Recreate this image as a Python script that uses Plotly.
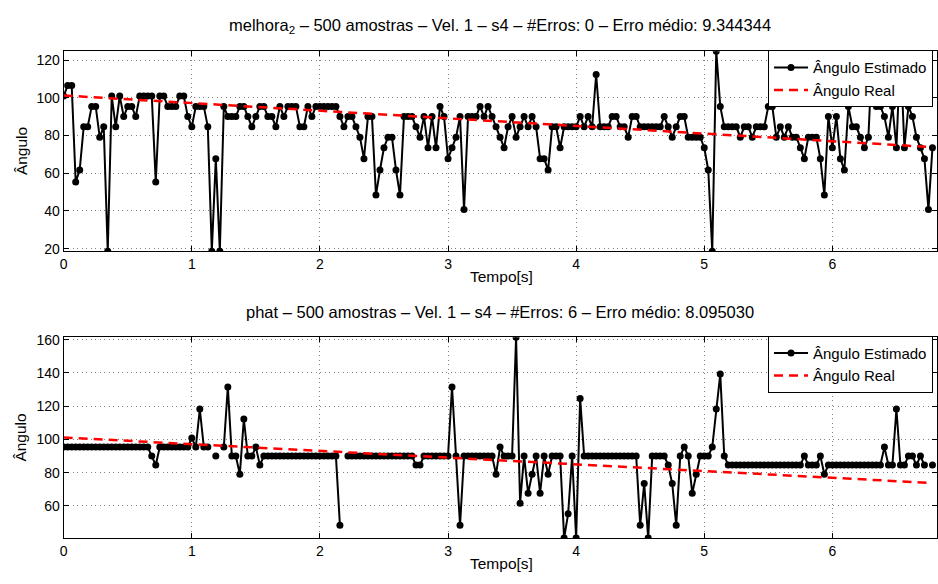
import numpy as np
import plotly.graph_objects as go

# frame period: 500 samples per estimate
dt = 0.03125

# estimated direction of arrival (degrees), method "melhora_2"
est_melhora = [
    100.9, 106.5, 106.5, 55.3, 61.7, 84.6, 84.6, 95.4, 95.4, 79.1,
    84.6, 18.6, 100.9, 84.6, 100.9, 90.0, 95.4, 95.4, 90.0, 100.9,
    100.9, 100.9, 100.9, 55.3, 100.9, 100.9, 95.4, 95.4, 95.4, 100.9,
    100.9, 90.0, 84.6, 95.4, 95.4, 95.4, 84.6, 18.6, 67.7, 18.6,
    95.4, 90.0, 90.0, 90.0, 95.4, 95.4, 90.0, 84.6, 90.0, 95.4,
    95.4, 90.0, 90.0, 84.6, 95.4, 90.0, 95.4, 95.4, 95.4, 84.6,
    84.6, 95.4, 90.0, 95.4, 95.4, 95.4, 95.4, 95.4, 95.4, 90.0,
    84.6, 90.0, 90.0, 84.6, 79.1, 67.7, 90.0, 90.0, 48.4, 61.7,
    73.5, 79.1, 79.1, 61.7, 48.4, 90.0, 90.0, 90.0, 84.6, 79.1,
    90.0, 73.5, 90.0, 73.5, 95.4, 90.0, 67.7, 73.5, 79.1, 90.0,
    40.7, 90.0, 90.0, 90.0, 95.4, 90.0, 95.4, 90.0, 84.6, 79.1,
    73.5, 84.6, 90.0, 79.1, 84.6, 90.0, 84.6, 90.0, 84.6, 67.7,
    67.7, 61.7, 84.6, 84.6, 73.5, 84.6, 84.6, 84.6, 84.6, 90.0,
    84.6, 90.0, 84.6, 112.3, 84.6, 84.6, 84.6, 90.0, 90.0, 84.6,
    84.6, 79.1, 90.0, 90.0, 84.6, 84.6, 84.6, 84.6, 84.6, 84.6,
    90.0, 84.6, 79.1, 84.6, 90.0, 90.0, 79.1, 79.1, 79.1, 79.1,
    73.5, 61.7, 18.6, 124.7, 95.4, 84.6, 84.6, 84.6, 84.6, 79.1,
    84.6, 84.6, 79.1, 84.6, 84.6, 84.6, 95.4, 95.4, 79.1, 84.6,
    79.1, 84.6, 79.1, 79.1, 73.5, 67.7, 79.1, 79.1, 79.1, 67.7,
    48.4, 90.0, 73.5, 90.0, 67.7, 61.7, 95.4, 84.6, 84.6, 79.1,
    73.5, 79.1, 124.7, 95.4, 95.4, 90.0, 79.1, 95.4, 73.5, 124.7,
    73.5, 95.4, 90.0, 79.1, 73.5, 67.7, 40.7, 73.5,
]

# estimated direction of arrival (degrees), method "phat"; None = no estimate
est_phat = [
    95.4, 95.4, 95.4, 95.4, 95.4, 95.4, 95.4, 95.4, 95.4, 95.4,
    95.4, 95.4, 95.4, 95.4, 95.4, 95.4, 95.4, 95.4, 95.4, 95.4,
    95.4, 95.4, 90.0, 84.6, 95.4, 95.4, 95.4, 95.4, 95.4, 95.4,
    95.4, 95.4, 100.9, 95.4, 118.3, 95.4, 95.4, None, 90.0, None,
    95.4, 131.6, 90.0, 90.0, 79.1, 112.3, 90.0, 90.0, 95.4, 84.6,
    90.0, 90.0, 90.0, 90.0, 90.0, 90.0, 90.0, 90.0, 90.0, 90.0,
    90.0, 90.0, 90.0, 90.0, 90.0, 90.0, 90.0, 90.0, 90.0, 48.4,
    None, 90.0, 90.0, 90.0, 90.0, 90.0, 90.0, 90.0, 90.0, 90.0,
    90.0, 90.0, 90.0, 90.0, 90.0, 90.0, 90.0, 90.0, 84.6, 84.6,
    90.0, 90.0, 90.0, 90.0, 90.0, 90.0, 90.0, 131.6, 90.0, 48.4,
    90.0, 90.0, 90.0, 90.0, 90.0, 90.0, 90.0, 90.0, 79.1, 95.4,
    90.0, 90.0, 90.0, 161.4, 61.7, 90.0, 67.7, 79.1, 90.0, 67.7,
    90.0, 79.1, 90.0, 90.0, 90.0, 40.7, 55.3, 90.0, 40.7, 124.7,
    90.0, 90.0, 90.0, 90.0, 90.0, 90.0, 90.0, 90.0, 90.0, 90.0,
    90.0, 90.0, 90.0, 90.0, 48.4, 73.5, 40.7, 90.0, 90.0, 90.0,
    90.0, 84.6, 73.5, 48.4, 90.0, 95.4, 90.0, 67.7, 79.1, 90.0,
    90.0, 90.0, 95.4, 118.3, 139.3, 90.0, 84.6, 84.6, 84.6, 84.6,
    84.6, 84.6, 84.6, 84.6, 84.6, 84.6, 84.6, 84.6, 84.6, 84.6,
    84.6, 84.6, 84.6, 84.6, 84.6, 90.0, 84.6, 84.6, 84.6, 90.0,
    79.1, 84.6, 84.6, 84.6, 84.6, 84.6, 84.6, 84.6, 84.6, 84.6,
    84.6, 84.6, 84.6, 84.6, 84.6, 95.4, 84.6, 84.6, 118.3, 84.6,
    84.6, 90.0, 90.0, 84.6, 90.0, 84.6, None, 84.6,
]

# true source angle (degrees) at start and end of the recording
real_t = [0.0, 6.78125]
real_ang = [101.2, 73.8]

t_melhora = np.arange(len(est_melhora)) * dt
t_phat = np.arange(len(est_phat)) * dt

W, H = 938, 584
FONT = "Liberation Sans, Arial, Helvetica, sans-serif"
X_LEFT, X_RIGHT = 60, 938
PX_PER_S = 128.8


def py(v):
    return 1 - v / H


def px(v):
    return v / W


fig = go.Figure()

panels = [
    ("x", "y", "legend", est_melhora, t_melhora, (46, 250),
     "melhora<sub>2</sub> – 500 amostras – Vel. 1 – s4 – #Erros: 0 – Erro médio: 9.344344"),
    ("x2", "y2", "legend2", est_phat, t_phat, (337.7, 542.3),
     "phat – 500 amostras – Vel. 1 – s4 – #Erros: 6 – Erro médio: 8.095030"),
]

annotations = []
for xa, ya, lg, est, tt, (top, bot), title in panels:
    fig.add_trace(go.Scatter(
        x=tt, y=est, mode="lines+markers", name="Ângulo Estimado",
        xaxis=xa, yaxis=ya, legend=lg, connectgaps=False,
        line=dict(color="black", width=2),
        marker=dict(color="black", size=7, symbol="circle"),
    ))
    fig.add_trace(go.Scatter(
        x=real_t, y=real_ang, mode="lines", name="Ângulo Real",
        xaxis=xa, yaxis=ya, legend=lg,
        line=dict(color="#ff0000", width=2.5, dash="9px,6px"),
    ))
    annotations.append(dict(
        text=title, x=px((X_LEFT + W) / 2), y=py(top - 26), xref="paper", yref="paper",
        showarrow=False, xanchor="center", yanchor="middle",
        font=dict(family=FONT, size=16.5, color="black"),
    ))
    annotations.append(dict(
        text="Tempo[s]", x=px(500), y=py(bot + 26), xref="paper", yref="paper",
        showarrow=False, xanchor="center", yanchor="middle",
        font=dict(family=FONT, size=15.5, color="black"),
    ))
    annotations.append(dict(
        text="Ângulo", x=px(17), y=py((top + bot) / 2), xref="paper", yref="paper",
        showarrow=False, xanchor="center", yanchor="middle", textangle=-90,
        font=dict(family=FONT, size=15.5, color="black"),
    ))

axis_common = dict(
    showline=True, linecolor="black", linewidth=1, mirror="ticks",
    ticks="inside", ticklen=5, tickwidth=1, tickcolor="black",
    showgrid=True, gridcolor="#808080", gridwidth=1, griddash="1px,3.5px",
    zeroline=False, tickfont=dict(family=FONT, size=14, color="black"),
)

x_range = [0, (X_RIGHT - X_LEFT) / PX_PER_S]
top_vals = [v for v in est_melhora if v is not None]
bot_vals = [v for v in est_phat if v is not None]

legend_style = dict(
    xanchor="right", yanchor="top",
    bgcolor="white", bordercolor="black", borderwidth=1,
    font=dict(family=FONT, size=15, color="black"), itemwidth=34,
    tracegroupgap=0,
)

fig.update_layout(
    width=W, height=H, margin=dict(l=0, r=0, t=0, b=0),
    paper_bgcolor="white", plot_bgcolor="white",
    font=dict(family=FONT, size=14, color="black"),
    xaxis=dict(domain=[px(X_LEFT), px(X_RIGHT)], anchor="y", range=x_range,
               dtick=1, tick0=0, **axis_common),
    yaxis=dict(domain=[py(250), py(46)], anchor="x",
               range=[min(top_vals), max(top_vals)], dtick=20, tick0=0, **axis_common),
    xaxis2=dict(domain=[px(X_LEFT), px(X_RIGHT)], anchor="y2", range=x_range,
                dtick=1, tick0=0, **axis_common),
    yaxis2=dict(domain=[py(542.3), py(337.7)], anchor="x2",
                range=[min(bot_vals), max(bot_vals)], dtick=20, tick0=0, **axis_common),
    legend=dict(x=px(934), y=py(45), **legend_style),
    legend2=dict(x=px(934), y=py(336), **legend_style),
    annotations=annotations,
    showlegend=True,
)

fig.write_html("out.html")
